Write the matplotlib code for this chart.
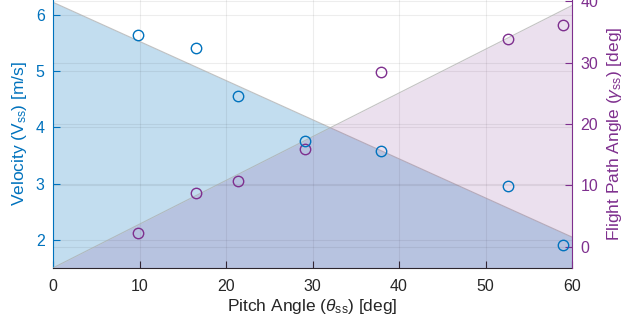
import numpy as np
import matplotlib
matplotlib.use("Agg")
import matplotlib.pyplot as plt

# measured steady-state points
pitch = [9.86, 16.53, 21.42, 29.13, 37.92, 52.64, 59.0]
velocity = [5.63, 5.40, 4.56, 3.76, 3.58, 2.96, 1.91]
gamma = [2.3, 8.8, 10.7, 16.0, 28.5, 33.9, 36.2]

# linear trends shown as shaded areas
fit_pitch = [0, 60]
fit_velocity = [6.22, 2.05]
fit_gamma = [-3.45, 39.3]

blue = "#0072BD"
purple = "#7E2F8E"
dark = "#262626"

plt.rcParams["font.family"] = ["Liberation Sans", "DejaVu Sans"]
plt.rcParams["mathtext.fontset"] = "custom"
plt.rcParams["mathtext.rm"] = "Liberation Sans"
plt.rcParams["mathtext.it"] = "Liberation Sans:italic"

fig = plt.figure(figsize=(6.22, 3.25), dpi=100)
ax = fig.add_axes([53 / 622, 57 / 325, 519 / 622, 268 / 325])
ax2 = ax.twinx()

v_lim = (1.5, 6.26)
g_lim = (-3.47, 40.2)

# velocity side
ax.fill_between(fit_pitch, fit_velocity, v_lim[0], color=blue, alpha=0.24,
                linewidth=0)
ax.plot(fit_pitch, fit_velocity, color="#aaaaaa", lw=0.8, alpha=0.7)
ax.set_xlim(0, 60)
ax.set_ylim(*v_lim)
ax.set_xticks(np.arange(0, 61, 10))
ax.set_yticks([2, 3, 4, 5, 6])
ax.grid(True, color=dark, alpha=0.08, lw=0.8)

# flight path angle side
ax2.fill_between(fit_pitch, fit_gamma, g_lim[0], color=purple, alpha=0.15,
                 linewidth=0)
ax2.plot(fit_pitch, fit_gamma, color="#aaaaaa", lw=0.8, alpha=0.7)
ax2.plot(pitch, gamma, "o", mfc="none", mec=purple, ms=7.5, mew=1.0,
         clip_on=False)
ax2.set_ylim(*g_lim)
ax2.set_yticks([0, 10, 20, 30, 40])
ax2.grid(True, axis="y", color=dark, alpha=0.08, lw=0.8)

# velocity markers sit above both fills
ax3 = fig.add_axes(ax.get_position(), sharex=ax, sharey=ax)
ax3.axis("off")
ax3.plot(pitch, velocity, "o", mfc="none", mec=blue, ms=7.5, mew=1.0,
         clip_on=False)

for a in (ax, ax2):
    a.spines["top"].set_visible(False)
    a.tick_params(direction="in", length=5, width=0.8, labelsize=11.5)
ax.spines["left"].set_color(blue)
ax.spines["bottom"].set_color(dark)
ax.spines["right"].set_visible(False)
ax2.spines["left"].set_visible(False)
ax2.spines["bottom"].set_visible(False)
ax2.spines["right"].set_color(purple)

ax.tick_params(axis="x", colors=dark, pad=8)
ax.tick_params(axis="y", colors=blue, pad=6)
ax2.tick_params(axis="y", colors=purple, pad=6)

ax.set_xlabel(r"Pitch Angle ($\theta_{\rm ss}$) [deg]", fontsize=12.5,
              color=dark, labelpad=2)
ax.set_ylabel(r"Velocity (V$_{\rm ss}$) [m/s]", fontsize=12.5, color=blue,
              labelpad=5)
ax2.set_ylabel(r"Flight Path Angle ($\gamma_{\rm ss}$) [deg]", fontsize=12.5,
               color=purple, labelpad=5)

fig.savefig("out.png", dpi=100)
